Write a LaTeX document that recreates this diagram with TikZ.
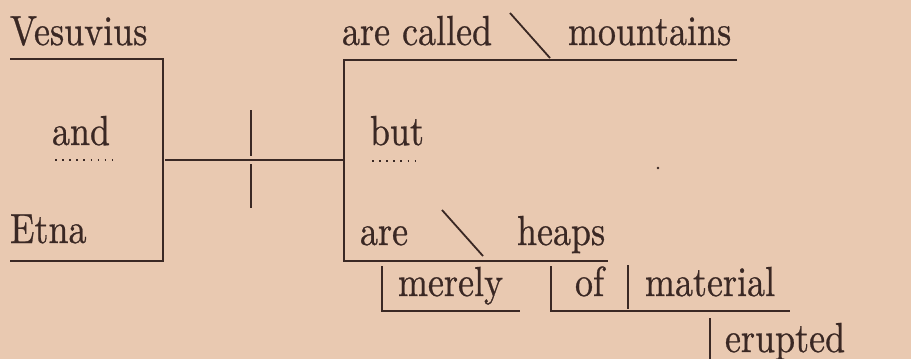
\documentclass[tikz,border=0pt]{standalone}
\usepackage{fontspec}
\newfontfamily\oldface{lmroman10-regular.otf}[FakeBold=0.7]
\begin{document}
\definecolor{paper}{RGB}{233,201,177}
\definecolor{ink}{RGB}{58,40,36}
\begin{tikzpicture}[x=1pt,y=-1pt,
  word/.style={anchor=base west,inner sep=0pt,outer sep=0pt,text=ink,
    font=\oldface\fontsize{10}{12}\selectfont,xscale=3.6,yscale=4.2},
  rule/.style={draw=ink,line width=1.8pt},
  dotrule/.style={draw=ink,line width=1.6pt,dash pattern=on 1.6pt off 5.5pt}]
\fill[paper] (0,0) rectangle (911,359);
\path[use as bounding box] (0,0) rectangle (911,359);
\clip (0,0) rectangle (911,359);
% left compound subject
\node[word] (ves) at (10,45) {Vesuvius};
\node[word] (and) at (52,145) {and};
\node[word] (etna) at (10,243) {Etna};
\coordinate (vL) at (10,59);
\coordinate (vR) at (163,59);
\coordinate (eL) at (10,261);
\coordinate (eR) at (163,261);
\draw[rule] (vL) -- (vR) -- (eR) -- (eL);
\coordinate (andA) at (55,160);
\coordinate (andB) at (115,160);
\draw[dotrule] (andA) -- (andB);
% main connector
\coordinate (cL) at (165,160);
\coordinate (cR) at (344,160);
\draw[rule] (cL) -- (cR);
\coordinate (t1) at (251,110);
\coordinate (t2) at (251,156);
\coordinate (t3) at (251,164);
\coordinate (t4) at (251,208);
\draw[rule] (t1) -- (t2);
\draw[rule] (t3) -- (t4);
% right compound predicate
\coordinate (pT) at (344,60);
\coordinate (pB) at (344,261);
\coordinate (pTR) at (737,60);
\coordinate (pBR) at (608,261);
\draw[rule] (pTR) -- (pT) -- (pB) -- (pBR);
\node[word] (called) at (342,45) {are called};
\node[word] (mount) at (568,45) {mountains};
\coordinate (s1a) at (510,13);
\coordinate (s1b) at (550,58);
\draw[rule] (s1a) -- (s1b);
\node[word] (but) at (370,145) {but};
\coordinate (butA) at (372,161);
\coordinate (butB) at (418,161);
\draw[dotrule] (butA) -- (butB);
\fill[ink] (658,168) circle (1.3);
\node[word] (are) at (360,245) {are};
\node[word] (heaps) at (517,245) {heaps};
\coordinate (s2a) at (442,210);
\coordinate (s2b) at (483,256);
\draw[rule] (s2a) -- (s2b);
% modifiers
\coordinate (mT) at (382,266);
\coordinate (mB) at (382,311);
\coordinate (mR) at (520,311);
\draw[rule] (mT) -- (mB) -- (mR);
\node[word] (merely) at (398,296) {merely};
\coordinate (oT) at (551,266);
\coordinate (oB) at (551,311);
\coordinate (oR) at (790,311);
\draw[rule] (oT) -- (oB) -- (oR);
\node[word] (of) at (575,296) {of};
\coordinate (sepT) at (628,265);
\coordinate (sepB) at (628,309);
\draw[rule] (sepT) -- (sepB);
\node[word] (material) at (645,296) {material};
\coordinate (rT) at (710,318);
\coordinate (rB) at (710,365);
\draw[rule] (rT) -- (rB);
\node[word] (erupted) at (725,352) {erupted};
\end{tikzpicture}
\end{document}
